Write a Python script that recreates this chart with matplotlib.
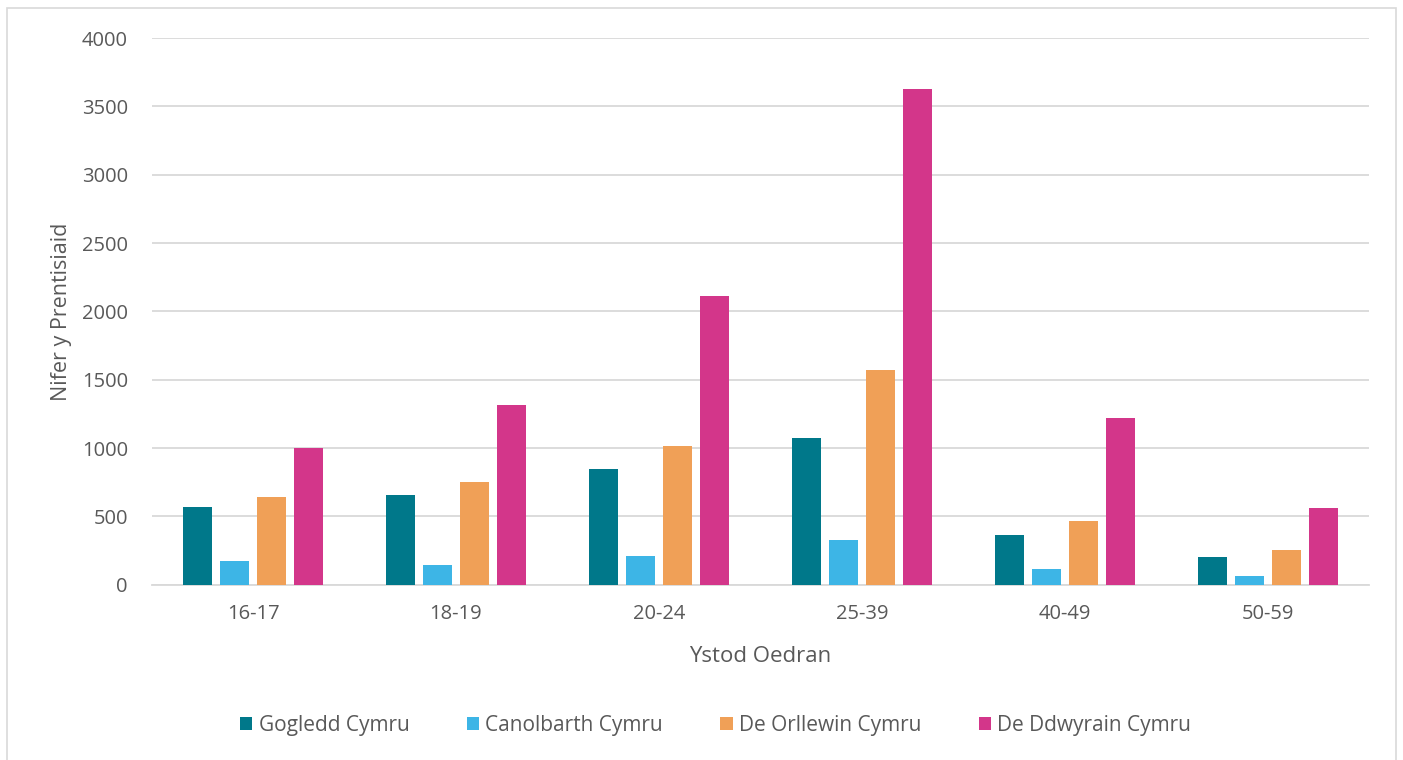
import numpy as np
import matplotlib
matplotlib.use("Agg")
import matplotlib.pyplot as plt
from matplotlib.patches import Rectangle

plt.rcParams['font.family'] = ['Open Sans', 'DejaVu Sans']

# age ranges and counts per region
age_groups = ["16-17", "18-19", "20-24", "25-39", "40-49", "50-59"]
regions = ["Gogledd Cymru", "Canolbarth Cymru", "De Orllewin Cymru", "De Ddwyrain Cymru"]
gogledd = [567, 655, 848, 1072, 362, 207]
canolbarth = [172, 145, 208, 325, 115, 68]
de_orllewin = [642, 750, 1018, 1570, 466, 252]
de_ddwyrain = [1000, 1317, 2114, 3630, 1218, 564]
colours = ["#00788A", "#3DB5E6", "#F0A057", "#D3368A"]

series = [gogledd, canolbarth, de_orllewin, de_ddwyrain]

fig = plt.figure(figsize=(14.03, 7.6), dpi=100)
ax = fig.add_axes([0.108, 0.2305, 0.868, 0.7195])

x = np.arange(len(age_groups))
step = 0.182
width = 0.145
for i, (vals, col, name) in enumerate(zip(series, colours, regions)):
    ax.bar(x + (i - 1.5) * step, vals, width, color=col, label=name, zorder=3)

ax.set_xlim(-0.5, len(age_groups) - 0.5)
ax.set_ylim(0, 4000)
ax.set_yticks(range(0, 4001, 500))
ax.set_xticks(x)
ax.set_xticklabels(age_groups)
ax.yaxis.grid(True, color="#d9d9d9", linewidth=1.3, zorder=0)
ax.tick_params(axis="both", length=0, labelsize=14.5, colors="#595959")
ax.tick_params(axis="y", pad=17)
ax.tick_params(axis="x", pad=14)
for s in ["top", "right", "left"]:
    ax.spines[s].set_visible(False)
ax.spines["bottom"].set_color("#d9d9d9")
ax.spines["bottom"].set_linewidth(1.3)

ax.set_xlabel("Ystod Oedran", fontsize=16, color="#595959", labelpad=16)
ax.set_ylabel("Nifer y Prentisiaid", fontsize=15.5, color="#595959", labelpad=7)

leg = fig.legend(loc="center", bbox_to_anchor=(0.51, 0.046), ncol=4, frameon=False,
                 fontsize=15, handlelength=0.6, handleheight=0.6, handletextpad=0.3,
                 columnspacing=2.75)
for t in leg.get_texts():
    t.set_color("#595959")

# outer chart border
fig.patches.append(Rectangle((0.005, -0.01), 0.99, 1.0, transform=fig.transFigure,
                             fill=False, edgecolor="#d9d9d9", linewidth=1.2))

fig.savefig("out.png", dpi=100)
